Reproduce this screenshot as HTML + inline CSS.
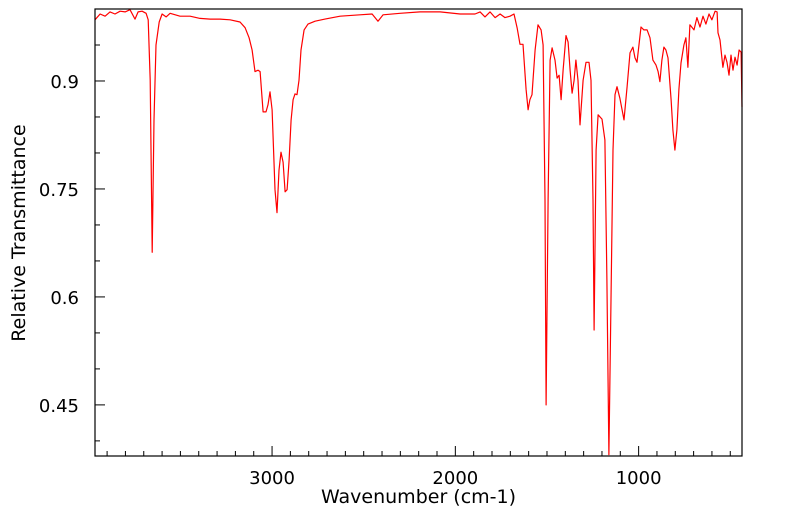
<!DOCTYPE html>
<html><head><meta charset="utf-8"><style>
html,body{margin:0;padding:0;background:#fff;}
svg{display:block;font-family:"DejaVu Sans","Liberation Sans",sans-serif;}
</style></head><body>
<svg id="chart" width="799" height="516"></svg>
<script>
const wavenumbers=[3966,3938,3911,3884,3857,3829,3802,3775,3748,3731,3709,3687,3676,3665,3654,3644,3633,3616,3600,3578,3556,3502,3447,3393,3338,3284,3229,3175,3147,3125,3109,3093,3076,3065,3049,3033,3022,3011,3000,2984,2973,2962,2951,2940,2929,2918,2907,2896,2885,2875,2864,2853,2842,2825,2804,2765,2711,2629,2520,2454,2422,2394,2302,2193,2083,1974,1893,1865,1838,1811,1783,1756,1729,1702,1680,1663,1647,1631,1614,1603,1593,1582,1565,1549,1532,1521,1511,1505,1494,1483,1472,1456,1445,1434,1423,1412,1396,1385,1374,1363,1352,1342,1331,1320,1303,1287,1271,1260,1249,1243,1232,1221,1200,1184,1173,1162,1151,1140,1129,1118,1102,1080,1063,1047,1031,1020,1009,987,971,954,938,922,905,894,884,873,862,851,840,823,813,802,791,780,769,753,742,731,720,698,682,665,649,633,616,600,583,572,567,556,540,529,518,507,496,485,474,463,452,441,436];
const transmittance=[.985,.993,.990,.996,.993,.997,.996,.999,.986,.996,.997,.994,.985,.901,.662,.846,.950,.982,.993,.989,.994,.990,.990,.987,.986,.986,.985,.982,.974,.960,.943,.913,.915,.913,.857,.857,.867,.885,.860,.749,.717,.776,.801,.787,.746,.749,.790,.846,.874,.882,.881,.901,.943,.971,.979,.983,.986,.990,.992,.993,.983,.992,.994,.996,.996,.993,.993,.996,.989,.996,.988,.993,.988,.990,.993,.974,.951,.951,.888,.860,.874,.881,.943,.978,.971,.950,.735,.450,.735,.929,.946,.929,.904,.908,.874,.915,.963,.954,.915,.883,.901,.929,.901,.839,.901,.926,.926,.901,.735,.554,.804,.853,.847,.818,.624,.381,.596,.804,.881,.892,.876,.846,.892,.939,.947,.932,.926,.975,.971,.971,.960,.929,.922,.913,.899,.929,.947,.943,.932,.874,.832,.804,.832,.888,.925,.950,.960,.919,.978,.971,.988,.975,.990,.979,.993,.985,.997,.996,.967,.957,.919,.936,.926,.908,.936,.915,.933,.922,.943,.940,.864];
const xTickLabels=[3000,2000,1000];
const yTickLabels=[0.9,0.75,0.6,0.45];

const NS='http://www.w3.org/2000/svg';
const svg=document.getElementById('chart');
const L=95,R=742,T=9,B=456;
const X0=3966,X1=436,Y0=1.0,Y1=0.379;
function xs(v){return L+(X0-v)/(X0-X1)*(R-L);}
function ys(v){return T+(Y0-v)/(Y0-Y1)*(B-T);}
function mk(tag,attrs){const e=document.createElementNS(NS,tag);for(const k in attrs)e.setAttribute(k,attrs[k]);svg.appendChild(e);return e;}

const pts=wavenumbers.map((w,i)=>xs(w).toFixed(1)+','+ys(transmittance[i]).toFixed(1)).join(' ');
const line=mk('polyline',{points:pts,fill:'none',stroke:'#ff0000','stroke-width':1.2,'stroke-linejoin':'round'});



const frame=mk('rect',{x:L,y:T,width:R-L,height:B-T,fill:'none',stroke:'#000','stroke-width':1.2});



for(let w=3900;w>=500;w-=100){
  const x=xs(w);const major=(w%1000===0);
  const t=mk('line',{x1:x,x2:x,y1:B,y2:B-(major?10:5),stroke:'#000','stroke-width':1});
  
  
}
xTickLabels.forEach(v=>{
  const t=mk('text',{x:xs(v),y:B+28,'text-anchor':'middle','font-size':18,fill:'#000'});
  t.textContent=String(v);
  
  
});
for(let k=8;k<=19;k++){
  const v=k*0.05;const y=ys(v);if(y<T||y>B)continue;
  const major=yTickLabels.some(m=>Math.abs(m-v)<1e-6);
  const t=mk('line',{x1:L,x2:L+(major?10:5),y1:y,y2:y,stroke:'#000','stroke-width':1});
  
  
}
yTickLabels.forEach(v=>{
  const t=mk('text',{x:L-16,y:ys(v)+7,'text-anchor':'end','font-size':18,fill:'#000'});
  t.textContent=String(v);
  
  
});
const xt=mk('text',{x:(L+R)/2,y:503,'text-anchor':'middle','font-size':19,fill:'#000'});
xt.textContent='Wavenumber (cm-1)';


const yt=mk('text',{x:0,y:0,'text-anchor':'middle','font-size':19,fill:'#000',transform:'translate(25,233) rotate(-90)'});
yt.textContent='Relative Transmittance';


</script>
</body></html>
